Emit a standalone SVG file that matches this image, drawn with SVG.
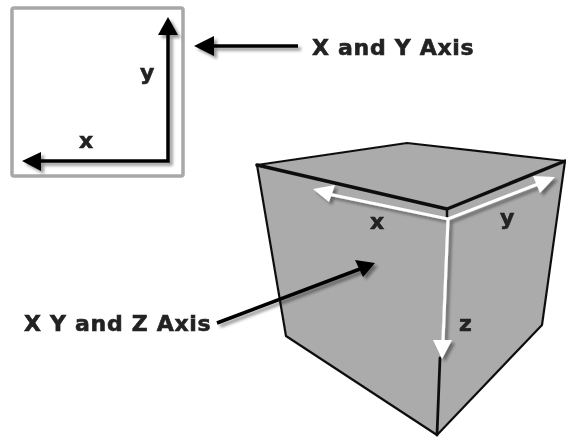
<svg xmlns="http://www.w3.org/2000/svg" width="566" height="438" viewBox="0 0 566 438">
<defs>
<filter id="soft" x="-10%" y="-10%" width="120%" height="120%"><feGaussianBlur stdDeviation="0.6"/></filter>
<filter id="shadow" x="-20%" y="-20%" width="140%" height="140%"><feGaussianBlur in="SourceGraphic" stdDeviation="0.4" result="b"/><feDropShadow in="b" dx="3" dy="3" stdDeviation="1.6" flood-color="#000" flood-opacity="0.4"/></filter>
</defs>
<style>
text{font-family:"DejaVu Sans",Verdana,sans-serif;font-weight:bold;fill:#222;stroke:#222;stroke-width:.6px}
.lbl{font-size:22px;letter-spacing:.7px}
.ax{font-size:22px}
.blk{stroke:#000;stroke-width:3.5;fill:none;stroke-linecap:butt;stroke-linejoin:miter}
.hd{fill:#000}
.wht{stroke:#fff;stroke-width:3;fill:none}
.hw{fill:#fff}
.edge{stroke:#111;fill:none;stroke-linejoin:round;stroke-linecap:round}
</style>
<g id="plane" filter="url(#soft)">
<rect x="12" y="8" width="171" height="168" rx="2" fill="#fff" stroke="#a8a8a8" stroke-width="3.5"/>
</g>
<g id="cube" filter="url(#soft)">
<polygon points="257,165 407,143 565,161 447,209 437,435 286,336" fill="#ababab"/>
<polygon points="565,161 542,325 437,435 447,209" fill="#ababab"/>
<polyline class="edge" stroke-width="2.2" points="257,165 407,143 565,161"/>
<polyline class="edge" stroke-width="2.2" points="257,165 286,336 437,435 542,325 565,161"/>
<polyline class="edge" stroke-width="3.5" points="257,165 447,209 565,161"/>
<line class="edge" stroke-width="2.5" x1="447" y1="209" x2="447" y2="219"/>
<line class="edge" stroke-width="2.8" x1="440" y1="358" x2="437" y2="435"/>
</g>
<g id="connectors">
<g filter="url(#shadow)">
<polyline class="blk" points="41,161 168,161 168,35"/>
<polygon class="hd" points="168,17 178,35 158,35"/>
<polygon class="hd" points="22,161 41,152 41,171"/>
<line class="blk" x1="212" y1="46" x2="298" y2="46"/>
<polygon class="hd" points="194,46 214,36 214,56"/>
<line class="blk" x1="217" y1="323" x2="360" y2="269"/>
<polygon class="hd" points="375,263 363,277 355,260"/>
</g>
<g filter="url(#shadow)">
<polyline class="wht" points="328,194 448,219 538,184"/>
<polygon class="hw" points="313,189 335,185 329,202"/>
<polygon class="hw" points="555,177 540,193 533,176"/>
<line class="wht" x1="448" y1="219" x2="443" y2="342"/>
<polygon class="hw" points="442,359 433,340 452,340"/>
</g>
</g>
<g id="labels" filter="url(#soft)">
<text class="lbl" x="312" y="55">X and Y Axis</text>
<text class="lbl" x="24" y="331">X Y and Z Axis</text>
<text class="ax" x="79" y="148">x</text>
<text class="ax" x="140" y="80">y</text>
<text class="ax" x="370" y="229">x</text>
<text class="ax" x="500" y="225">y</text>
<text class="ax" x="459" y="331">z</text>
</g>
</svg>
